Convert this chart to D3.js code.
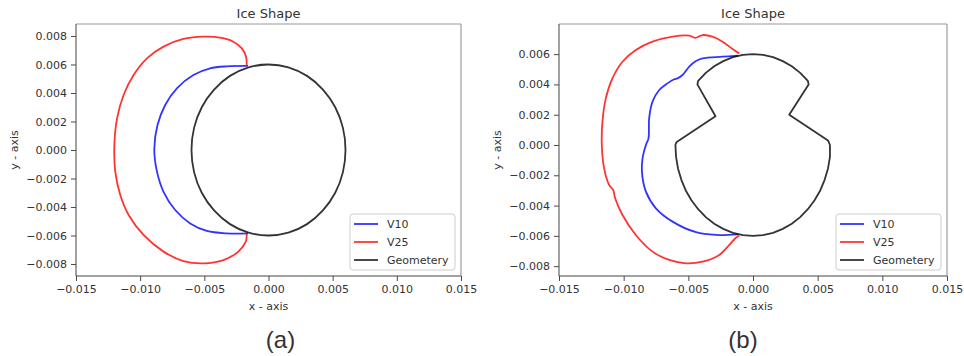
<!DOCTYPE html>
<html>
<head>
<meta charset="utf-8">
<script src="https://cdn.jsdelivr.net/npm/d3@7"></script>
<style>
  body { margin: 0; background: #fff; }
  svg { display: block; }
  text { font-family: "DejaVu Sans", sans-serif; fill: #333; }
</style>
</head>
<body>
<svg id="chart" width="964" height="356"></svg>
<script>
// ---- data ----
var xTicks = [-0.015, -0.010, -0.005, 0.000, 0.005, 0.010, 0.015];
var yTicksA = [-0.008, -0.006, -0.004, -0.002, 0.000, 0.002, 0.004, 0.006, 0.008];
var yTicksB = [-0.008, -0.006, -0.004, -0.002, 0.000, 0.002, 0.004, 0.006];
var seriesNames = ["V10", "V25", "Geometery"];

// (a) round cylinder
var geometryA = [
  [0.0060, 0], [0.0058, 0.00155], [0.0052, 0.0030], [0.00424, 0.00424], [0.0030, 0.0052], [0.00155, 0.0058],
  [0, 0.0060], [-0.00155, 0.0058], [-0.0030, 0.0052], [-0.00424, 0.00424], [-0.0052, 0.0030], [-0.0058, 0.00155],
  [-0.0060, 0], [-0.0058, -0.00155], [-0.0052, -0.0030], [-0.00424, -0.00424], [-0.0030, -0.0052], [-0.00155, -0.0058],
  [0, -0.0060], [0.00155, -0.0058], [0.0030, -0.0052], [0.00424, -0.00424], [0.0052, -0.0030], [0.0058, -0.00155]
];
var v10A = [
  [-0.0016, 0.0059], [-0.00325, 0.00587], [-0.00455, 0.00573], [-0.00585, 0.00526], [-0.00714, 0.00433],
  [-0.00805, 0.00316], [-0.00865, 0.00175], [-0.0089, 0.00005], [-0.00869, -0.00152], [-0.00818, -0.00293],
  [-0.00727, -0.00421], [-0.0061, -0.00515], [-0.0048, -0.00568], [-0.00325, -0.00585], [-0.0016, -0.00585]
];
var v25A = [
  [-0.0017, 0.0059], [-0.00175, 0.00655], [-0.00208, 0.00713], [-0.00274, 0.0076], [-0.00377, 0.00788],
  [-0.00507, 0.00795], [-0.00663, 0.00779], [-0.00818, 0.00725], [-0.00947, 0.00643], [-0.01051, 0.00526],
  [-0.01129, 0.00386], [-0.0118, 0.00222], [-0.01201, 0.00035], [-0.01194, -0.00152], [-0.01155, -0.00316],
  [-0.0109, -0.00456], [-0.00974, -0.00596], [-0.00818, -0.00713], [-0.00663, -0.00779], [-0.00507, -0.00795],
  [-0.00351, -0.00772], [-0.00235, -0.00713], [-0.00177, -0.00643], [-0.0017, -0.00585]
];

// (b) notched cylinder
var geometryB = [
  [0, 0.0060], [0.00078, 0.00595], [0.00155, 0.0058], [0.0023, 0.00554], [0.0030, 0.0052], [0.00365, 0.00476],
  [0.00424, 0.00424], [0.0043, 0.0040], [0.0028, 0.0020], [0.0058, 0.0003], [0.00595, 0],
  [0.00595, -0.00078], [0.0058, -0.00155], [0.00554, -0.0023], [0.0052, -0.0030], [0.00476, -0.00365],
  [0.00424, -0.00424], [0.00365, -0.00476], [0.0030, -0.0052], [0.0023, -0.00554], [0.00155, -0.0058],
  [0.00078, -0.00595], [0, -0.0060], [-0.00078, -0.00595], [-0.00155, -0.0058], [-0.0023, -0.00554],
  [-0.0030, -0.0052], [-0.00365, -0.00476], [-0.00424, -0.00424], [-0.00476, -0.00365], [-0.0052, -0.0030],
  [-0.00554, -0.0023], [-0.0058, -0.00155], [-0.00595, -0.00078], [-0.0060, 0], [-0.0059, 0.0002],
  [-0.0029, 0.0019], [-0.0043, 0.0040], [-0.00424, 0.00424], [-0.00365, 0.00476], [-0.0030, 0.0052],
  [-0.0023, 0.00554], [-0.00155, 0.0058], [-0.00078, 0.00595], [0, 0.0060]
];
var v10B = [
  [-0.00115, 0.0059], [-0.00235, 0.00583], [-0.0039, 0.00572], [-0.00441, 0.00554], [-0.00493, 0.00517],
  [-0.00545, 0.00462], [-0.00584, 0.0044], [-0.00609, 0.00434], [-0.00661, 0.00407], [-0.00725, 0.00363],
  [-0.00777, 0.00286], [-0.00803, 0.00176], [-0.00808, 0.00044], [-0.00828, 0], [-0.00854, -0.00088],
  [-0.00859, -0.00176], [-0.00828, -0.00308], [-0.00751, -0.00418], [-0.00622, -0.00506], [-0.00441, -0.00576],
  [-0.00286, -0.00594], [-0.00115, -0.0059]
];
var v25B = [
  [-0.00106, 0.00605], [-0.00158, 0.00634], [-0.00235, 0.00682], [-0.00313, 0.00715], [-0.0039, 0.00726],
  [-0.00447, 0.00708], [-0.00493, 0.00722], [-0.00622, 0.00715], [-0.00777, 0.00682], [-0.00906, 0.00627],
  [-0.01009, 0.0055], [-0.01087, 0.0044], [-0.01138, 0.00308], [-0.01164, 0.00154], [-0.01169, 0],
  [-0.01151, -0.00154], [-0.01112, -0.00264], [-0.01081, -0.00297], [-0.01066, -0.00352], [-0.01009, -0.00462],
  [-0.00906, -0.00594], [-0.00777, -0.00704], [-0.00648, -0.00759], [-0.00519, -0.00781], [-0.0039, -0.0077],
  [-0.00261, -0.00726], [-0.00183, -0.0066], [-0.00132, -0.00612], [-0.00106, -0.00599]
];

var colors = { "V10": "#0000ff", "V25": "#ff0000", "Geometery": "#000000" };
var TICKFORMAT = d3.format(".3f");

var svg = d3.select("#chart");

var panels = [
  { left: 76, top: 24, width: 385, height: 252, yDomain: [-0.00884, 0.00884], yTicks: yTicksA,
    v10: v10A, v25: v25A, geometry: geometryA, geoCurve: d3.curveCatmullRomClosed, label: "(a)", ylabX: 14 },
  { left: 559, top: 24, width: 388, height: 252, yDomain: [-0.00865, 0.00799], yTicks: yTicksB,
    v10: v10B, v25: v25B, geometry: geometryB, geoCurve: d3.curveLinear, label: "(b)", ylabX: 497 }
];

panels.forEach(drawPanel);

function drawPanel(p) {
  var x = d3.scaleLinear().domain([-0.015, 0.015]).range([0, p.width]);
  var y = d3.scaleLinear().domain(p.yDomain).range([p.height, 0]);

  var g = svg.append("g").attr("transform", "translate(" + p.left + "," + p.top + ")");

  // axes
  var xAxis = g.append("g")
    .attr("transform", "translate(0," + p.height + ")")
    .call(d3.axisBottom(x).tickValues(xTicks).tickFormat(TICKFORMAT).tickSize(5).tickPadding(4));
  var yAxis = g.append("g")
    .call(d3.axisLeft(y).tickValues(p.yTicks).tickFormat(TICKFORMAT).tickSize(5).tickPadding(4));
  [xAxis, yAxis].forEach(function(a) {
    a.select(".domain").remove();
    a.selectAll("line").attr("stroke", "#333").attr("stroke-width", 0.9);
    a.selectAll("text").attr("font-size", 11).attr("fill", "#333")
      .style("font-family", "'DejaVu Sans', sans-serif");
  });

  // lines
  var line = d3.line()
    .x(function(d) { return x(d[0]); })
    .y(function(d) { return y(d[1]); });

  g.append("path").datum(p.v10)
    .attr("d", line.curve(d3.curveCatmullRom.alpha(0.5)))
    .attr("fill", "none").attr("stroke", colors.V10).attr("stroke-opacity", 0.8).attr("stroke-width", 1.8);
  g.append("path").datum(p.v25)
    .attr("d", line.curve(d3.curveCatmullRom.alpha(0.5)))
    .attr("fill", "none").attr("stroke", colors.V25).attr("stroke-opacity", 0.8).attr("stroke-width", 1.8);
  g.append("path").datum(p.geometry)
    .attr("d", line.curve(p.geoCurve))
    .attr("fill", "none").attr("stroke", colors.Geometery).attr("stroke-opacity", 0.8)
    .attr("stroke-width", 1.8).attr("stroke-linejoin", "round");

  // frame (spines)
  g.append("line").attr("x1", 0).attr("x2", p.width).attr("y1", 0).attr("y2", 0)
    .attr("stroke", "#999").attr("stroke-width", 1);
  g.append("line").attr("x1", p.width).attr("x2", p.width).attr("y1", 0).attr("y2", p.height)
    .attr("stroke", "#888").attr("stroke-width", 1);
  g.append("line").attr("x1", 0).attr("x2", 0).attr("y1", 0).attr("y2", p.height)
    .attr("stroke", "#444").attr("stroke-width", 1);
  g.append("line").attr("x1", 0).attr("x2", p.width).attr("y1", p.height).attr("y2", p.height)
    .attr("stroke", "#444").attr("stroke-width", 1);

  // title & axis labels
  g.append("text").attr("x", p.width / 2).attr("y", -6)
    .attr("text-anchor", "middle").attr("font-size", 13).text("Ice Shape");
  g.append("text").attr("x", p.width / 2).attr("y", p.height + 34)
    .attr("text-anchor", "middle").attr("font-size", 11).text("x - axis");
  svg.append("text")
    .attr("transform", "translate(" + (p.ylabX + 4) + "," + (p.top + p.height / 2) + ") rotate(-90)")
    .attr("text-anchor", "middle").attr("font-size", 11).text("y - axis");

  // legend
  var lg = g.append("g").attr("transform", "translate(" + (p.width - 111) + "," + (p.height - 62) + ")");
  lg.append("rect").attr("width", 105).attr("height", 56).attr("rx", 3)
    .attr("fill", "#fff").attr("fill-opacity", 0.8).attr("stroke", "#ccc");
  seriesNames.forEach(function(name, i) {
    var yy = 10 + i * 18;
    lg.append("line").attr("x1", 4).attr("x2", 28).attr("y1", yy).attr("y2", yy)
      .attr("stroke", colors[name]).attr("stroke-opacity", 0.8).attr("stroke-width", 1.8);
    lg.append("text").attr("x", 37).attr("y", yy + 4).attr("font-size", 11).text(name);
  });

  // panel label
  svg.append("text")
    .attr("x", p.left + p.width / 2 + (p.label === "(a)" ? 12 : -10)).attr("y", 348)
    .attr("text-anchor", "middle").attr("font-size", 24)
    .style("font-family", "'Liberation Sans', Arial, sans-serif").attr("fill", "#222")
    .text(p.label);
}
</script>
</body>
</html>
